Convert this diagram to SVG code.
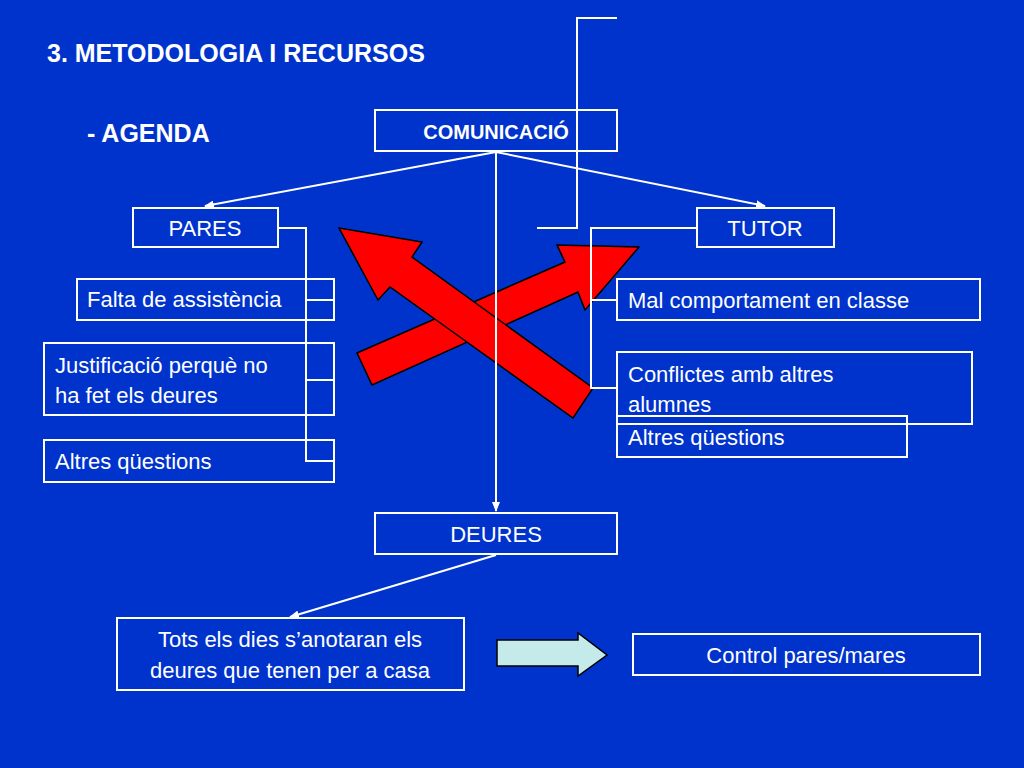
<svg xmlns="http://www.w3.org/2000/svg" width="1024" height="768" viewBox="0 0 1024 768">
<style>
.b{fill:none;stroke:#fff;stroke-width:2}
.t{fill:#fff;font-family:"Liberation Sans",Arial,sans-serif;font-size:22px}
.c{fill:none;stroke:#fff;stroke-width:2}
.r{fill:#f00;stroke:#000;stroke-width:1.5}
</style>
<defs><marker id="a" markerWidth="10" markerHeight="8" refX="9" refY="4" orient="auto" markerUnits="userSpaceOnUse"><path d="M0,0L10,4L0,8z" fill="#fff"/></marker></defs>
<rect width="1024" height="768" fill="#0033cc"/>
<text x="47" y="62" class="t" style="font-weight:bold;font-size:25px">3. METODOLOGIA I RECURSOS</text>
<text x="87" y="142" class="t" style="font-weight:bold;font-size:25px">- AGENDA</text>
<g id="arrows-red">
<polygon class="r" points="357,353 565,262 557,245 639,247 585,310 578,292 372,385"/>
<polygon class="r" points="339,228 422,242 412,257 593,388 573,418 390,287 378,300"/>
</g>
<g id="connectors">
<path class="c" d="M496,152L205,206" marker-end="url(#a)"/>
<path class="c" d="M496,152L765,206" marker-end="url(#a)"/>
<path class="c" d="M496,152L496,511" marker-end="url(#a)"/>
<path class="c" d="M496,555L290,617" marker-end="url(#a)"/>
<path class="c" d="M278,228H306V461H334M306,300H334M306,380H334"/>
<path class="c" d="M617,18H577V228H537"/>
<path class="c" d="M697,228H591V388H617M591,300H617"/>
</g>
<g id="n-com"><rect class="b" x="375" y="110" width="242" height="41"/><text class="t" x="496" y="139" text-anchor="middle" style="font-weight:bold;font-size:20px">COMUNICACIÓ</text></g>
<g id="n-pares"><rect class="b" x="133" y="208" width="145" height="39"/><text class="t" x="205" y="236" text-anchor="middle">PARES</text></g>
<g id="n-tutor"><rect class="b" x="697" y="208" width="137" height="39"/><text class="t" x="765" y="236" text-anchor="middle">TUTOR</text></g>
<g id="n-falta"><rect class="b" x="77" y="279" width="257" height="41"/><text class="t" x="87" y="307">Falta de assistència</text></g>
<g id="n-just"><rect class="b" x="44" y="343" width="290" height="72"/><text class="t" x="55" y="373">Justificació perquè no</text><text class="t" x="55" y="403">ha fet els deures</text></g>
<g id="n-altres1"><rect class="b" x="44" y="440" width="290" height="42"/><text class="t" x="55" y="469">Altres qüestions</text></g>
<g id="n-mal"><rect class="b" x="617" y="279" width="363" height="41"/><text class="t" x="628" y="308">Mal comportament en classe</text></g>
<g id="n-conf"><rect class="b" x="617" y="352" width="355" height="72"/><text class="t" x="628" y="382">Conflictes amb altres</text><text class="t" x="628" y="412">alumnes</text></g>
<g id="n-altres2"><rect class="b" x="617" y="416" width="290" height="41"/><text class="t" x="628" y="445">Altres qüestions</text></g>
<g id="n-deures"><rect class="b" x="375" y="513" width="242" height="41"/><text class="t" x="496" y="542" text-anchor="middle">DEURES</text></g>
<g id="n-tots"><rect class="b" x="117" y="618" width="347" height="72"/><text class="t" x="290" y="647" text-anchor="middle">Tots els dies  s’anotaran els</text><text class="t" x="290" y="678" text-anchor="middle">deures que tenen per a casa</text></g>
<g id="n-control"><rect class="b" x="633" y="634" width="347" height="41"/><text class="t" x="806" y="663" text-anchor="middle">Control pares/mares</text></g>
<polygon points="497,640 578,640 578,633 607,655 578,676 578,666 497,666" fill="#c4eaea" stroke="#000" stroke-width="1.5"/>
</svg>
